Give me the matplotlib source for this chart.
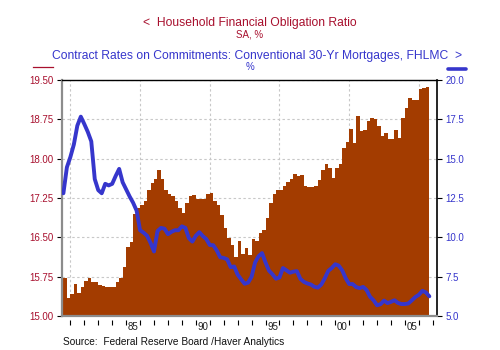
import matplotlib
matplotlib.use('Agg')
import matplotlib.pyplot as plt
import numpy as np
from matplotlib.lines import Line2D

plt.rcParams['font.family'] = ['Liberation Sans', 'DejaVu Sans']

# Household Financial Obligation Ratio, quarterly, SA, %
ratio = [16.02, 15.73, 15.35, 15.41, 15.61, 15.44, 15.56, 15.67, 15.73, 15.64,
         15.64, 15.59, 15.57, 15.56, 15.55, 15.55, 15.64, 15.73, 15.93, 16.32,
         16.42, 16.94, 17.05, 17.12, 17.20, 17.40, 17.54, 17.61, 17.78, 17.61,
         17.40, 17.33, 17.28, 17.19, 17.05, 16.96, 17.15, 17.28, 17.31, 17.23,
         17.23, 17.24, 17.33, 17.35, 17.20, 17.12, 16.93, 16.67, 16.49, 16.35,
         16.13, 16.43, 16.18, 16.29, 16.16, 16.46, 16.43, 16.58, 16.64, 16.86,
         17.15, 17.33, 17.40, 17.40, 17.47, 17.56, 17.62, 17.70, 17.66, 17.68,
         17.48, 17.46, 17.46, 17.47, 17.59, 17.78, 17.90, 17.83, 17.64, 17.83,
         17.90, 18.21, 18.32, 18.57, 18.30, 18.81, 18.52, 18.55, 18.72, 18.78,
         18.75, 18.62, 18.43, 18.49, 18.38, 18.37, 18.55, 18.39, 18.78, 18.97,
         19.16, 19.12, 19.11, 19.33, 19.35, 19.37]

# Contract rate on conventional 30-yr mortgages, FHLMC, %
rate = [12.8, 14.45, 15.1, 15.9, 17.1, 17.67, 17.2, 16.7, 16.1, 13.7,
        13.0, 12.8, 13.4, 13.3, 13.4, 13.9, 14.35, 13.5, 13.05, 12.6,
        12.2, 11.7, 10.45, 10.3, 10.1, 9.65, 9.1, 10.4, 10.6, 10.55,
        10.2, 10.35, 10.45, 10.45, 10.7, 10.6, 9.95, 9.73, 10.1, 10.33,
        10.08, 9.89, 9.51, 9.5, 9.17, 8.73, 8.69, 8.6, 8.1, 8.15,
        7.63, 7.33, 7.05, 7.12, 7.5, 8.4, 8.8, 9.0, 8.4, 7.88,
        7.65, 7.37, 7.45, 8.05, 7.9, 7.75, 7.82, 7.85, 7.36, 7.17,
        7.07, 7.0, 6.86, 6.8, 7.0, 7.4, 7.87, 8.05, 8.29, 8.2,
        7.9, 7.4, 7.03, 7.03, 6.84, 6.77, 6.85, 6.65, 6.22, 6.0,
        5.68, 5.75, 5.98, 5.82, 5.9, 6.0, 5.83, 5.76, 5.76, 5.8,
        6.0, 6.21, 6.35, 6.6, 6.5, 6.25]

label_years = [1985, 1990, 1995, 2000, 2005]
year_labels = ['85', '90', '95', '00', '05']
grid_years = [1981, 1986, 1991, 1996, 2001, 2006]
left_ticks = [15.00, 15.75, 16.50, 17.25, 18.00, 18.75, 19.50]
right_ticks = [5.0, 7.5, 10.0, 12.5, 15.0, 17.5, 20.0]

RED = '#A8102E'
BLUE = '#3636CC'
BAR = '#A33C00'
GRID = '#C8C8C8'

ratio_t = 1980.25 + 0.25 * np.arange(len(ratio))
rate_t = 1980.5 + 0.25 * np.arange(len(rate))

fig = plt.figure(figsize=(5, 3.5), dpi=100)
ax = fig.add_axes([0.124, 0.09714, 0.75, 0.6743])
ax.set_axisbelow(True)
ax.bar(ratio_t, ratio, width=0.25, align='edge', color=BAR, linewidth=0, zorder=2)
ax.set_xlim(1980.4, 2007.3)
ax.set_ylim(15, 19.5)
ax.set_yticks(left_ticks)
ax.set_yticklabels(['%.2f' % v for v in left_ticks])
ax.yaxis.grid(True, linestyle=(0, (2.2, 2.2)), color=GRID, linewidth=0.8)
for y in grid_years:
    ax.axvline(y, linestyle=(0, (2.2, 2.2)), color=GRID, linewidth=0.8, zorder=0.5)

ax.set_xticks(np.arange(1981, 2008), minor=True)
ax.set_xticks([y + 0.5 for y in label_years])
ax.set_xticklabels(year_labels)
ax.tick_params(axis='x', which='major', length=0, pad=1.5, labelsize=7, labelcolor='#222222')
ax.tick_params(axis='x', which='minor', length=3.5, width=0.8, color='black')
ax.tick_params(axis='y', length=3.5, width=0.8, color='black', labelcolor=RED, labelsize=7, pad=2.5)
for s in ax.spines.values():
    s.set_visible(False)
ax.spines['bottom'].set_position(('outward', 3))

ax2 = ax.twinx()
ax2.plot(rate_t, rate, color=BLUE, linewidth=2.8, solid_joinstyle='round', solid_capstyle='round', zorder=3)
ax2.set_ylim(5, 20)
ax2.set_yticks(right_ticks)
ax2.set_yticklabels(['%.1f' % v for v in right_ticks])
ax2.tick_params(axis='y', length=3.5, width=0.8, color='black', labelcolor=BLUE, labelsize=7, pad=2.5)
ax2.spines['left'].set_color('#8C8C8C')
ax2.spines['left'].set_linewidth(1.6)
ax2.spines['bottom'].set_color('#8C8C8C')
ax2.spines['bottom'].set_linewidth(1.6)
ax2.spines['top'].set_color('black')
ax2.spines['top'].set_linewidth(1.0)
ax2.spines['right'].set_color('black')
ax2.spines['right'].set_linewidth(1.2)

fig.text(250 / 500, 1 - 23 / 350, '<  Household Financial Obligation Ratio', ha='center', va='center',
         color=RED, fontsize=8.7)
fig.text(0.5, 1 - 34.5 / 350, 'SA, %', ha='center', va='center', color=RED, fontsize=7)
fig.text(257 / 500, 1 - 56.5 / 350,
         'Contract Rates on Commitments: Conventional 30-Yr Mortgages, FHLMC  >',
         ha='center', va='center', color=BLUE, fontsize=8.7)
fig.text(0.5, 1 - 67.5 / 350, '%', ha='center', va='center', color=BLUE, fontsize=7)
fig.add_artist(Line2D([33 / 500, 53 / 500], [1 - 67 / 350] * 2, color=RED, linewidth=0.9))
fig.add_artist(Line2D([448 / 500, 466 / 500], [1 - 69 / 350] * 2, color=BLUE, linewidth=2.6,
                      solid_capstyle='round'))
fig.text(63 / 500, 1 - 342 / 350, 'Source:  Federal Reserve Board /Haver Analytics',
         ha='left', va='center', fontsize=7.3, color='#111111')

fig.savefig('out.png', dpi=100)
